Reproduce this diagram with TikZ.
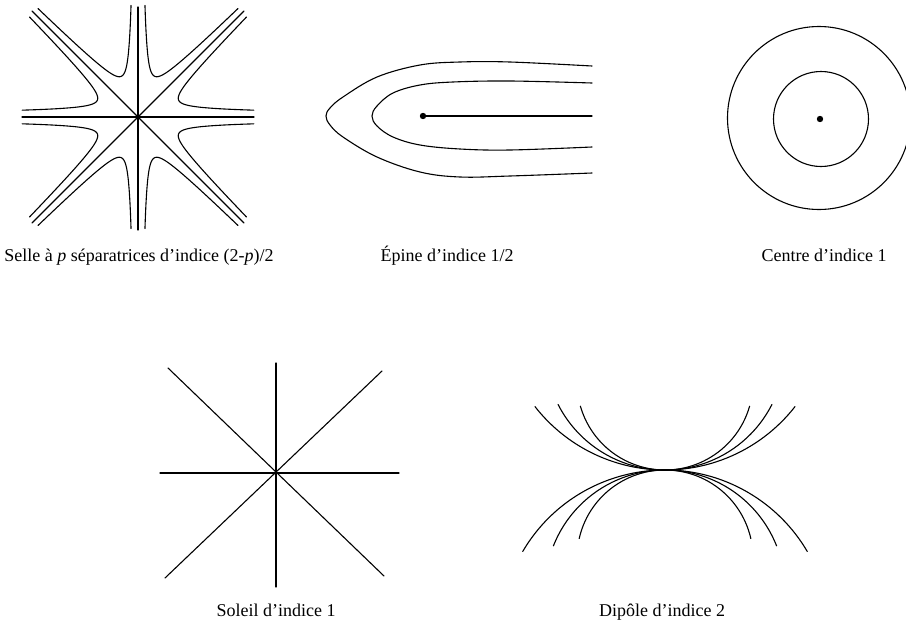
\documentclass[tikz,border=0pt]{standalone}
\usepackage{fontspec}
\setmainfont{Liberation Serif}
\tikzset{
  crb/.style = {line width=1.1pt, line join=round, line cap=round},
  lbl/.style = {font=\fontsize{18}{20}\selectfont, inner sep=0pt, anchor=base},
}

\begin{document}
\begin{tikzpicture}[x=1pt, y=-1pt]
  \useasboundingbox (0,0) rectangle (906,632);
  % selle : 8 separatrices and one hyperbola per sector
  \begin{scope}[shift={(138,117)}]
    \foreach \a/\r in {0/116,45/150,90/113,135/150,180/116,225/150,270/110,315/150}
      \draw[crb] (0,0) -- (\a:\r);
    \foreach \a/\ta/\tb in {0/13.5/9.3, 45/9.3/14.3, 90/14.3/9.3, 135/9.3/13.5,
                            180/13.5/9.3, 225/9.3/14.3, 270/14.3/9.3, 315/9.3/13.5}
      \draw[crb] plot[domain=\ta:180-\tb, samples=90, variable=\t, smooth]
        ({\a+\t/4}:{44/pow(sin(\t),0.6667)});
  \end{scope}
  \node[lbl] (selle) at (139,261) {Selle à \textit{p} séparatrices d’indice (2-\textit{p})/2};
  % epine
  \fill (423,116) circle[radius=3.2];
  \draw[crb] (423,116) -- (592,116);
  \draw[crb] plot[smooth, tension=0.6] coordinates {(592,83) (510,81) (453,82) (420,85)
    (393,93) (377,106) (372,116) (377,126) (393,137) (420,145) (460,149) (510,150) (592,147)};
  \draw[crb] plot[smooth, tension=0.6] coordinates {(592,66) (510,62) (460,62) (420,65)
    (377,77) (343,97) (330,108) (326,116) (330,125) (343,137) (377,157) (420,172)
    (460,177) (510,176) (592,173)};
  \node[lbl] (epine) at (447,261) {Épine d’indice 1/2};
  % centre
  \fill (820,119) circle[radius=3.2];
  \draw[crb] (821,119) circle[radius=47.5];
  \draw[crb] (819,118) circle[radius=91.5];
  \node[lbl] (centre) at (824,261) {Centre d’indice 1};
  % soleil
  \begin{scope}[shift={(276,473)}]
    \draw[crb] (-116,0) -- (123,0);
    \draw[crb] (0,-110) -- (0,114);
    \draw[crb] (-108,-105) -- (108,103);
    \draw[crb] (106,-102) -- (-111,105);
  \end{scope}
  \node[lbl] (soleil) at (276,616) {Soleil d’indice 1};
  % dipole : circles tangent at one point
  \foreach \r/\b in {88/16, 120/27, 165/38} {
    \draw[crb] (665,470-\r) ++(\b:\r) arc[start angle=\b, end angle=180-\b, radius=\r];
    \draw[crb] (665,470+\r) ++(180+\b-\b/5:\r) arc[start angle=180+\b-\b/5, end angle=360-\b+\b/5, radius=\r];
  }
  \node[lbl] (dipole) at (662,616) {Dipôle d’indice 2};
\end{tikzpicture}
\end{document}
